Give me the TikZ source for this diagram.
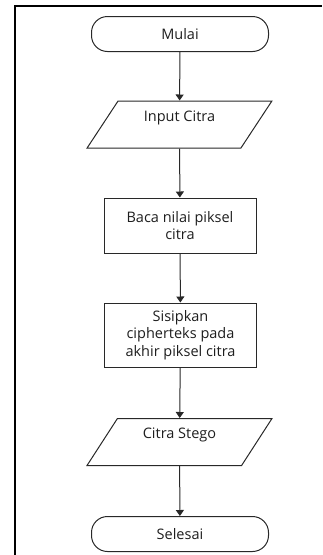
\documentclass[tikz,border=0pt]{standalone}
\usepackage{fontspec}
\setmainfont{Open Sans}
\usetikzlibrary{positioning,arrows.meta,shapes.geometric}
\definecolor{flowline}{RGB}{40,40,40}
\definecolor{flowtext}{RGB}{30,30,30}

\begin{document}
\begin{tikzpicture}[
  x=1pt,y=1pt,
  >={Triangle[length=6pt,width=8pt]},
  terminal/.style={draw=flowline,line width=1pt,rounded corners=16pt,minimum width=177pt,minimum height=35pt,inner sep=0pt,font=\fontsize{14.5}{17.5}\selectfont,text=flowtext},
  io/.style={draw=flowline,line width=1pt,trapezium,trapezium left angle=57,trapezium right angle=123,trapezium stretches=true,minimum width=185pt,minimum height=47pt,inner sep=0pt,text depth=17pt,font=\fontsize{14.5}{17.5}\selectfont,text=flowtext},
  process/.style={draw=flowline,line width=1pt,minimum width=152pt,align=center,inner sep=0pt,font=\fontsize{14.5}{17.5}\selectfont,text=flowtext},
  ar/.style={->,line width=1pt,flowline}
]
\useasboundingbox (0,0) rectangle (322,-555);
% frame
\draw[line width=2.5pt,black] (15,-555) -- (15,-6) -- (322,-6);

% nodes, top to bottom
\node[terminal] (mulai) at (180,-34) {Mulai};
\node[io] (input) at (179.5,-124.5) {Input Citra};
\node[process,minimum height=55pt] (baca) at (180,-225.5) {Baca nilai piksel\\citra};
\node[process,minimum height=64pt] (sisip) at (180.5,-335) {Sisipkan\\cipherteks pada\\akhir piksel citra};
\node[io] (stego) at (179.5,-442) {Citra Stego};
\node[terminal] (selesai) at (180,-534) {Selesai};

% connectors
\draw[ar] (mulai) -- (input);
\draw[ar] (input) -- (baca);
\draw[ar] (baca) -- (sisip);
\draw[ar] (sisip) -- (stego);
\draw[ar] (stego) -- (selesai);
\end{tikzpicture}
\end{document}
